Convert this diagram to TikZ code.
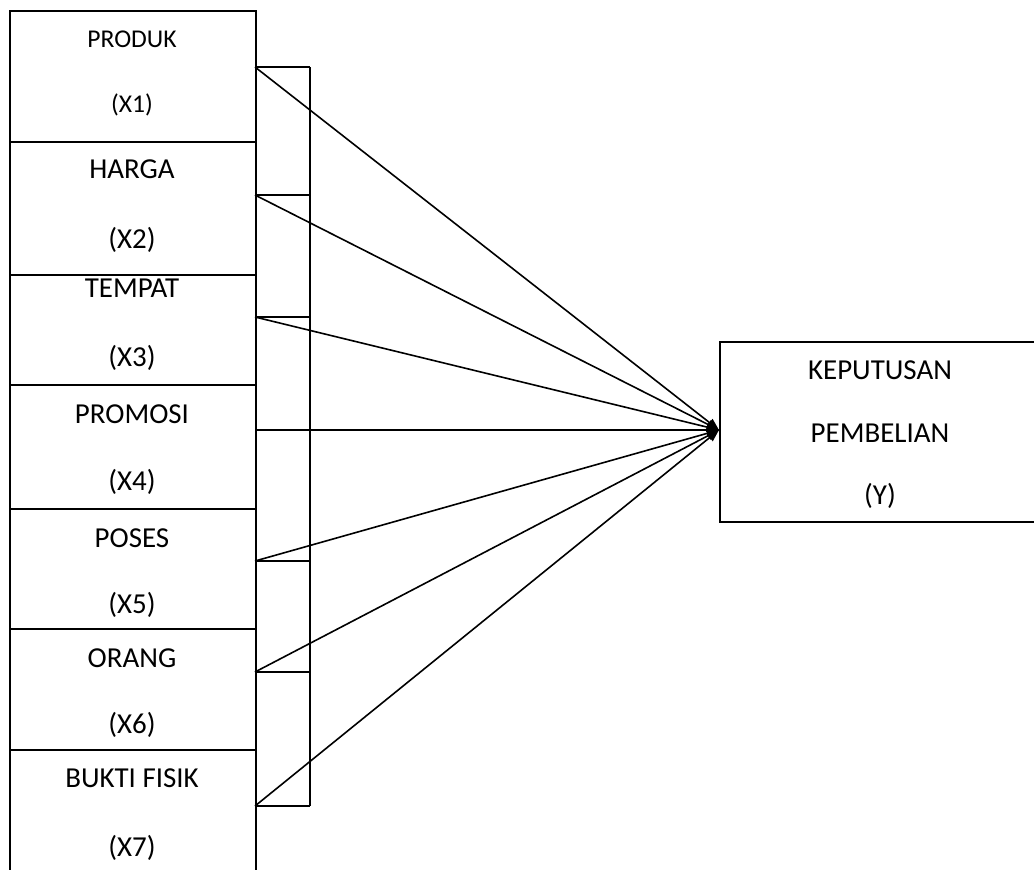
\documentclass[tikz,border=0pt]{standalone}
\usepackage{fontspec}
\setmainfont{Carlito}
\usetikzlibrary{arrows.meta}
\begin{document}
\begin{tikzpicture}[x=0.75pt,y=-0.75pt,
  box/.style={draw, line width=1.3pt, rectangle, inner sep=0pt, anchor=north west, minimum width=184.5pt},
  lbl/.style={anchor=base, inner sep=0pt, font=\fontsize{21.7}{26}\selectfont},
  lblsmall/.style={anchor=base, inner sep=0pt, font=\fontsize{19.2}{23}\selectfont},
  conn/.style={line width=1.2pt, -{Triangle[length=9pt,width=7pt]}},
  brk/.style={line width=1.3pt}]
\useasboundingbox (0,0) rectangle (1034,869);
% left boxes
\node[box, minimum height=98.25pt] (b1) at (9,10) {};
\node[box, minimum height=99.75pt] (b2) at (9,141) {};
\node[box, minimum height=82.5pt]  (b3) at (9,274) {};
\node[box, minimum height=93pt]    (b4) at (9,384) {};
\node[box, minimum height=90pt]    (b5) at (9,508) {};
\node[box, minimum height=90.75pt] (b6) at (9,628) {};
\node[box, minimum height=98.25pt] (b7) at (9,749) {};
% right box
\node[box, minimum width=241.5pt, minimum height=135pt] (y) at (719,341) {};
% labels
\node[lblsmall] (t1a) at (132,47) {PRODUK};
\node[lblsmall] (t1b) at (132,112) {(X1)};
\node[lbl] (t2a) at (132,178) {HARGA};
\node[lbl] (t2b) at (132,248) {(X2)};
\node[lbl] (t3a) at (132,297) {TEMPAT};
\node[lbl] (t3b) at (132,366) {(X3)};
\node[lbl] (t4a) at (132,423) {PROMOSI};
\node[lbl] (t4b) at (132,490) {(X4)};
\node[lbl] (t5a) at (132,547) {POSES};
\node[lbl] (t5b) at (132,613) {(X5)};
\node[lbl] (t6a) at (132,667) {ORANG};
\node[lbl] (t6b) at (132,733) {(X6)};
\node[lbl] (t7a) at (132,787) {BUKTI FISIK};
\node[lbl] (t7b) at (132,856) {(X7)};
\node[lbl] (ya) at (880,379) {KEPUTUSAN};
\node[lbl] (yb) at (880,442) {PEMBELIAN};
\node[lbl] (yc) at (880,504) {(Y)};
% connector start points and bracket
\coordinate (p1) at (255,67);  \coordinate (q1) at (310,67);
\coordinate (p2) at (255,195); \coordinate (q2) at (310,195);
\coordinate (p3) at (255,317); \coordinate (q3) at (310,317);
\coordinate (p4) at (255,430); \coordinate (q4) at (310,430);
\coordinate (p5) at (255,561); \coordinate (q5) at (310,561);
\coordinate (p6) at (255,672); \coordinate (q6) at (310,672);
\coordinate (p7) at (255,806); \coordinate (q7) at (310,806);
\coordinate (tip) at (719,430);
\draw[brk] (q1) -- (q7);
\foreach \i in {1,...,7} {
  \draw[brk] (p\i) -- (q\i);
  \draw[conn] (p\i) -- (tip);
}
\end{tikzpicture}
\end{document}
